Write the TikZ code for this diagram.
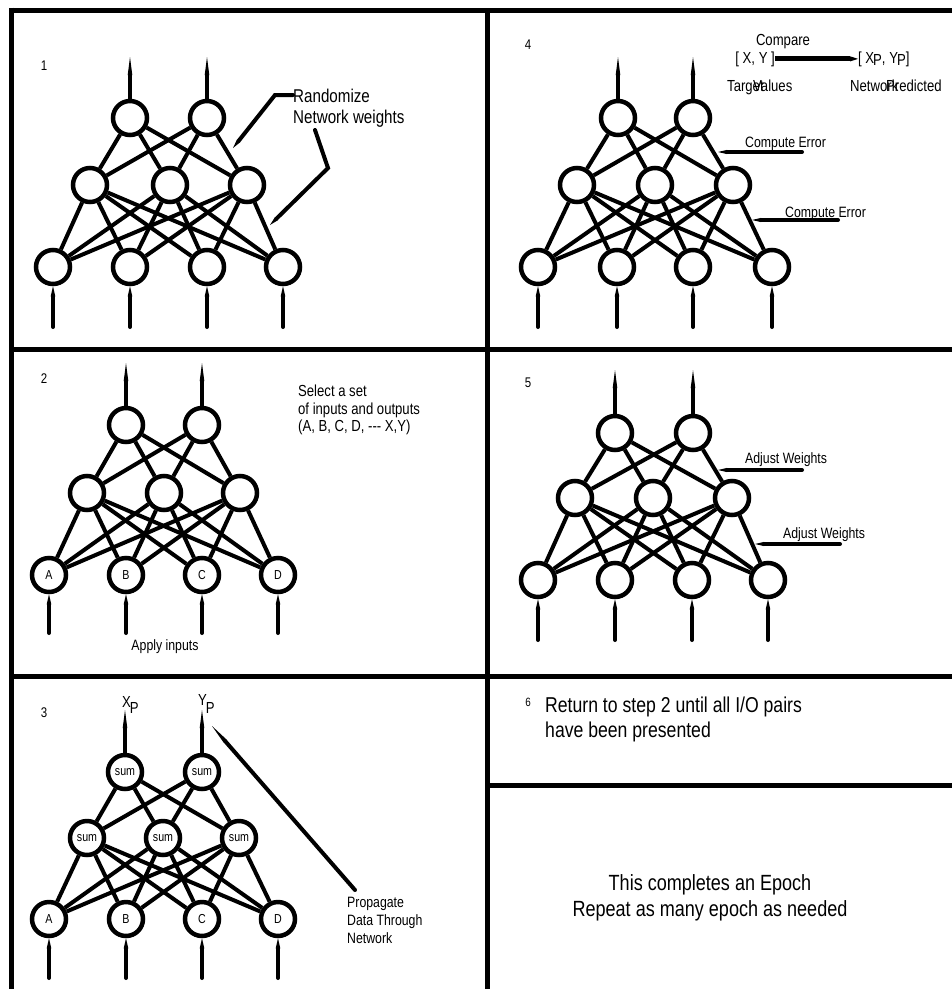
\documentclass[tikz,border=0pt]{standalone}
\usepackage{fontspec}
\setmainfont{Liberation Sans}[FakeStretch=0.82]
\usetikzlibrary{arrows.meta}
\begin{document}
\begin{tikzpicture}[x=1pt,y=1pt,
  rule/.style={line width=5pt},
  unit/.style={circle,draw,fill=white,line width=4.5pt,minimum size=34pt,inner sep=0pt,
    font=\fontsize{13}{15}\selectfont},
  wire/.style={line width=\netlw},
  outarr/.style={line width=\netlw,-{Triangle[length=18pt,width=4.6pt,line width=0pt]}},
  inarr/.style={line width=\netlw,line cap=round,-{Triangle[length=10pt,width=4.6pt,line width=0pt]}},
  lead/.style={line width=\netlw,line cap=round,-{Triangle[length=9pt,width=4.2pt,line width=0pt]}},
  txt/.style 2 args={inner sep=0pt,font=\fontsize{#1}{#2}\selectfont}]%
% training steps of a back-propagation network, one panel per step
\ifx\netlw\undefined\newdimen\netlw\fi
\global\def\netP#1{\kern-1pt\raisebox{-#1}{P}}
\netlw=4pt
\useasboundingbox (0,0) rectangle (952,-989);
\draw[rule] (11,-10) -- (952,-10);
\draw[rule] (11,-7.5) -- (11,-989);
\draw[rule] (487,-10) -- (487,-989);
\draw[rule] (11,-349) -- (952,-349);
\draw[rule] (11,-676) -- (952,-676);
\draw[rule] (487,-785) -- (952,-785);
% panel 1
\node[unit] (ao1) at (130,-118) {};
\node[unit] (ao2) at (207,-118) {};
\node[unit] (ah1) at (90,-185) {};
\node[unit] (ah2) at (170,-185) {};
\node[unit] (ah3) at (247,-185) {};
\node[unit] (ai1) at (53,-267) {};
\node[unit] (ai2) at (130,-267) {};
\node[unit] (ai3) at (207,-267) {};
\node[unit] (ai4) at (283,-267) {};
\coordinate (atop) at (0,-57);
\coordinate (abot) at (0,-327);
\node[txt={14}{16},anchor=base] (s1) at (44,-70) {1};
\node[txt={18.5}{21},anchor=north west,align=left] (rnd) at (293,-89) {Randomize\\Network weights};
\coordinate (rndk) at (275,-95);
\coordinate (rndp) at (233,-148);
\coordinate (rnds) at (315,-130);
\coordinate (rndj) at (328,-168);
\coordinate (rndq) at (270,-225);
\draw[lead] (rnd.west |- rndk) -- (rndk) -- (rndp);
\draw[lead] (rnds) -- (rndj) -- (rndq);
% panel 2
\node[unit] (bo1) at (126,-425) {};
\node[unit] (bo2) at (202,-425) {};
\node[unit] (bh1) at (87,-493) {};
\node[unit] (bh2) at (164,-493) {};
\node[unit] (bh3) at (240,-493) {};
\node[unit] (bi1) at (49,-575) {A};
\node[unit] (bi2) at (126,-575) {B};
\node[unit] (bi3) at (202,-575) {C};
\node[unit] (bi4) at (278,-575) {D};
\coordinate (btop) at (0,-363);
\coordinate (bbot) at (0,-633);
\node[txt={14}{16},anchor=base] (s2) at (44,-383) {2};
\node[txt={16}{17.5},anchor=north west,align=left] (sel) at (298,-385)
  {Select a set\\of inputs and outputs\\(A, B, C, D, -{}-{}- X,Y)};
\node[txt={15}{18},anchor=base] (app) at (165,-650) {Apply inputs};
% panel 3
\node[unit] (co1) at (125,-772) {sum};
\node[unit] (co2) at (202,-772) {sum};
\node[unit] (ch1) at (87,-838) {sum};
\node[unit] (ch2) at (163,-838) {sum};
\node[unit] (ch3) at (239,-838) {sum};
\node[unit] (ci1) at (49,-919) {A};
\node[unit] (ci2) at (126,-919) {B};
\node[unit] (ci3) at (202,-919) {C};
\node[unit] (ci4) at (278,-919) {D};
\coordinate (ctop) at (0,-710);
\coordinate (cbot) at (0,-978);
\node[txt={14}{16},anchor=base] (s3) at (44,-717) {3};
\node[txt={16}{18},anchor=base west] (xp) at (122,-707) {X\netP{6pt}};
\node[txt={16}{18},anchor=base west] (yp) at (198,-705) {Y\netP{8pt}};
\node[txt={15}{18},anchor=north west,align=left] (prp) at (347,-897)
  {Propagate\\Data Through\\Network};
\coordinate (prpa) at (355,-890);
\coordinate (prpb) at (212,-726);
\draw[lead,-{Triangle[length=20pt,width=4.2pt,line width=0pt]}] (prpa) -- (prpb);
% panel 4
\node[unit] (do1) at (618,-118) {};
\node[unit] (do2) at (693,-118) {};
\node[unit] (dh1) at (577,-185) {};
\node[unit] (dh2) at (655,-185) {};
\node[unit] (dh3) at (733,-185) {};
\node[unit] (di1) at (538,-267) {};
\node[unit] (di2) at (617,-267) {};
\node[unit] (di3) at (693,-267) {};
\node[unit] (di4) at (772,-267) {};
\coordinate (dtop) at (0,-57);
\coordinate (dbot) at (0,-327);
\node[txt={14}{16},anchor=base] (s4) at (528,-49) {4};
\node[txt={16}{18},anchor=base] (cmp) at (783,-45) {Compare};
\node[txt={16}{18},anchor=base east] (tgt) at (775,-63) {[ X, Y ]};
\node[txt={16}{18},anchor=base west] (prd) at (858,-63) {[ X\netP{2pt}, Y\netP{2pt}]};
\draw[line width=5pt,-{Triangle[length=8pt,width=5.2pt,line width=0pt]}] (tgt) -- (prd);
\node[txt={16}{18},anchor=base west] (tv1) at (727,-91) {Target};
\node[txt={16}{18},anchor=base west] (tv2) at (753,-91) {Values};
\node[txt={16}{18},anchor=base west] (np1) at (850,-91) {Network};
\node[txt={16}{18},anchor=base west] (np2) at (886,-91) {Predicted};
\node[txt={15}{18},anchor=base west] (ce1) at (745,-147) {Compute Error};
\node[txt={15}{18},anchor=base west] (ce2) at (785,-217) {Compute Error};
\coordinate (ce1a) at (802,-152);
\coordinate (ce1b) at (718,-152);
\coordinate (ce2a) at (838,-220);
\coordinate (ce2b) at (752,-220);
\draw[lead] (ce1a) -- (ce1b);
\draw[lead] (ce2a) -- (ce2b);
% panel 5
\node[unit] (eo1) at (615,-433) {};
\node[unit] (eo2) at (693,-433) {};
\node[unit] (eh1) at (575,-498) {};
\node[unit] (eh2) at (653,-498) {};
\node[unit] (eh3) at (732,-498) {};
\node[unit] (ei1) at (538,-580) {};
\node[unit] (ei2) at (615,-580) {};
\node[unit] (ei3) at (692,-580) {};
\node[unit] (ei4) at (768,-580) {};
\coordinate (etop) at (0,-370);
\coordinate (ebot) at (0,-640);
\node[txt={14}{16},anchor=base] (s5) at (528,-387) {5};
\node[txt={15}{18},anchor=base west] (aw1) at (745,-463) {Adjust Weights};
\node[txt={15}{18},anchor=base west] (aw2) at (783,-538) {Adjust Weights};
\coordinate (aw1a) at (802,-470);
\coordinate (aw1b) at (718,-470);
\coordinate (aw2a) at (840,-544);
\coordinate (aw2b) at (755,-544);
\draw[lead] (aw1a) -- (aw1b);
\draw[lead] (aw2a) -- (aw2b);
% connections and in/out arrows
\foreach \p in {a,b,c,d,e}{
  \foreach \h in {1,2,3}{
    \foreach \o in {1,2} \draw[wire] (\p h\h) -- (\p o\o);
    \foreach \i in {1,2,3,4} \draw[wire] (\p i\i) -- (\p h\h);
  }
  \foreach \o in {1,2} \draw[outarr] (\p o\o) -- (\p o\o |- \p top);
  \foreach \i in {1,2,3,4} \draw[inarr] (\p i\i |- \p bot) -- (\p i\i);
}
% panel 6
\node[txt={12}{14},anchor=base] (s6) at (528,-706) {6};
\node[txt={21.5}{24.5},anchor=north west,align=left] (ret) at (545,-697)
  {Return to step 2 until all I/O pairs\\have been presented};
\node[txt={22}{26},anchor=north,align=center] (epo) at (710,-874)
  {This completes an Epoch\\Repeat as many epoch as needed};
\end{tikzpicture}
\end{document}
